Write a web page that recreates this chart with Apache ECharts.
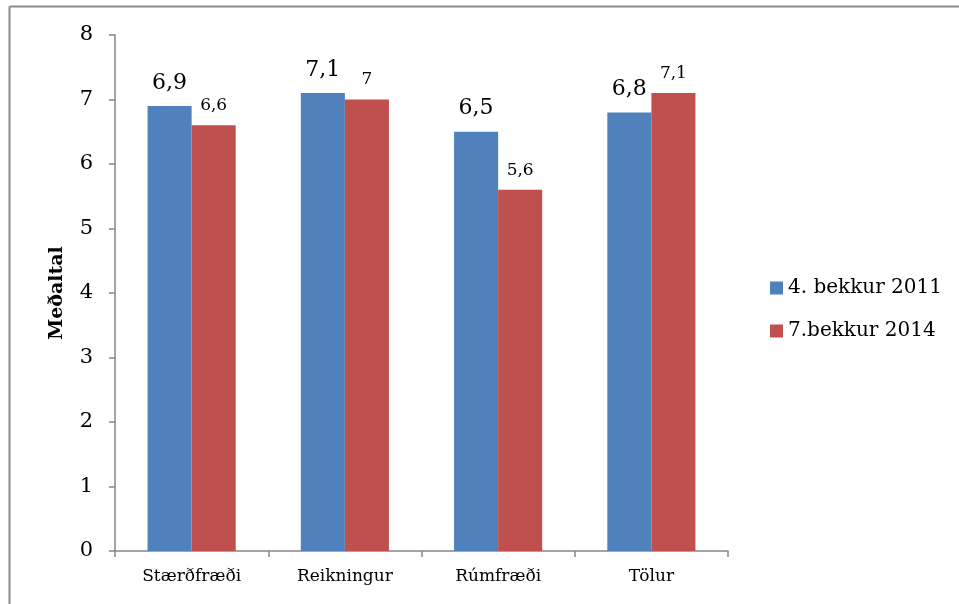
<!DOCTYPE html>
<html>
<head>
<meta charset="utf-8">
<script src="https://cdn.jsdelivr.net/npm/echarts@6/dist/echarts.min.js"></script>
<style>html,body{margin:0;padding:0;background:#fff}#c{width:959px;height:604px}</style>
</head>
<body>
<div id="c"></div>
<script>
var categories = ["Stærðfræði", "Reikningur", "Rúmfræði", "Tölur"];
var seriesNames = ["4. bekkur 2011", "7.bekkur 2014"];
var values2011 = [6.9, 7.1, 6.5, 6.8];
var values2014 = [6.6, 7.0, 5.6, 7.1];
var yTicks = [0, 1, 2, 3, 4, 5, 6, 7, 8];

var FONT = "DejaVu Serif";
var chart = echarts.init(document.getElementById('c'), null, {renderer: 'canvas'});
function fmt(p){ return String(p.value).replace('.', ','); }
chart.setOption({
  animation: false,
  backgroundColor: '#ffffff',
  textStyle: {fontFamily: FONT, color: '#000'},
  graphic: [
    {type: 'line', shape: {x1: 9.5, y1: 6.5, x2: 959, y2: 6.5}, style: {stroke: '#8c8c8c', lineWidth: 2}},
    {type: 'line', shape: {x1: 9.5, y1: 6.5, x2: 9.5, y2: 604}, style: {stroke: '#8c8c8c', lineWidth: 2}}
  ],
  grid: {left: 115, right: 231, top: 35, bottom: 53, containLabel: false},
  legend: {
    orient: 'vertical', left: 765, top: 273,
    itemWidth: 13, itemHeight: 13, itemGap: 23,
    data: seriesNames,
    textStyle: {fontFamily: FONT, fontSize: 20, color: '#000'},
    icon: 'rect'
  },
  xAxis: {
    type: 'category', data: categories,
    axisLine: {lineStyle: {color: '#868686', width: 1.5}},
    axisTick: {show: true, length: 6, lineStyle: {color: '#868686', width: 1.5}},
    axisLabel: {fontFamily: FONT, fontSize: 17, color: '#000', margin: 17},
    splitLine: {show: false}
  },
  yAxis: {
    type: 'value', min: yTicks[0], max: yTicks[yTicks.length-1], interval: 1,
    name: 'Meðaltal', nameLocation: 'middle', nameGap: 48, nameRotate: 90,
    nameTextStyle: {fontFamily: FONT, fontSize: 19, fontWeight: 'bold', color: '#000'},
    axisLine: {show: true, lineStyle: {color: '#868686', width: 1.5}},
    axisTick: {show: true, length: 6, lineStyle: {color: '#868686', width: 1.5}},
    axisLabel: {fontFamily: FONT, fontSize: 21, color: '#000', margin: 22},
    splitLine: {show: false}
  },
  series: [
    {
      name: seriesNames[0], type: 'bar', data: values2011,
      barGap: '0%', barCategoryGap: '42.5%',
      itemStyle: {color: '#4F81BD'},
      label: {show: true, position: 'top', distance: 12, formatter: fmt, fontFamily: FONT, fontSize: 22, color: '#000'}
    },
    {
      name: seriesNames[1], type: 'bar', data: values2014,
      barGap: '0%', barCategoryGap: '42.5%',
      itemStyle: {color: '#C0504D'},
      label: {show: true, position: 'top', distance: 11, formatter: fmt, fontFamily: FONT, fontSize: 17, color: '#000'}
    }
  ]
});
</script>
</body>
</html>
